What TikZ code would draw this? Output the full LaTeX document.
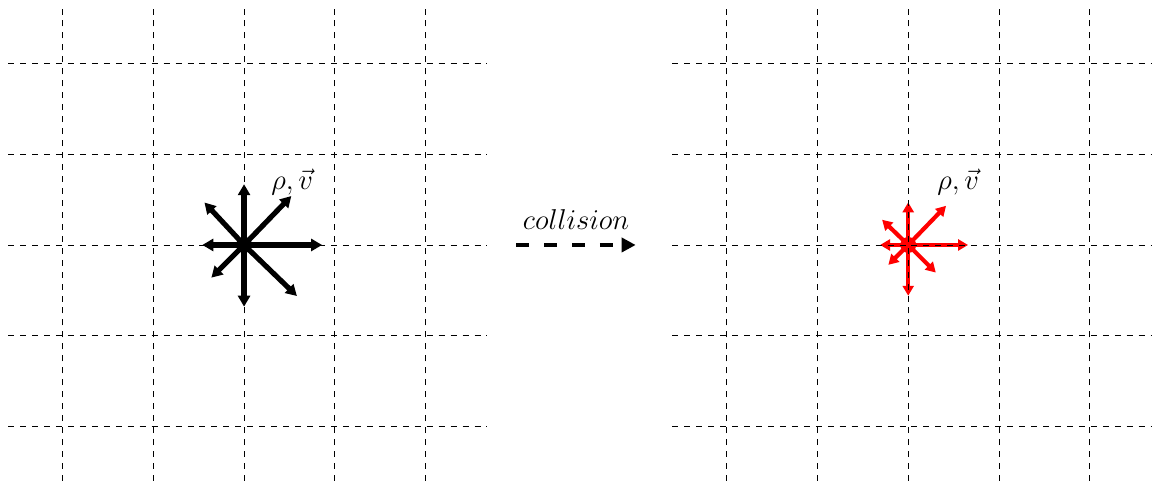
\documentclass[tikz,border=0pt,12pt]{standalone}
\usetikzlibrary{arrows.meta,calc}

\begin{document}
\begin{tikzpicture}[
  x=1.6cm, y=1.6cm,
  gridline/.style={dashed, line width=0.4pt},
  spoke/.style={-{Triangle[length=5.5pt, width=6pt]}, line width=2.6pt},
  redspoke/.style={-{Triangle[length=5pt, width=5.5pt]}, line width=2.1pt, red},
  dot/.style={circle, fill, inner sep=0pt, minimum size=8pt},
  label/.style={font=\large},
  collide/.style={-{Triangle[length=7pt, width=7pt]}, line width=2.2pt, dash pattern=on 6.5pt off 7.5pt},
]
\useasboundingbox (-2.69,-2.656) rectangle (10.04,2.70);

% === Before: black distribution ===
\node[dot] (lc) at (0,0) {};
\foreach \a/\l in {90/0.67, 46/0.75, 133/0.64, 180/0.46, 0/0.86, 225/0.51, 270/0.68, 316/0.81}
  \draw[spoke] (lc.center) -- ++(\a:\l);
\node[label] (lrho) at (0.53,0.69) {$\rho,\vec{v}$};

% === After: red distribution ===
\node[dot, red] (rc) at (7.32,0) {};
\foreach \a/\l in {90/0.47, 46/0.60, 136/0.40, 180/0.31, 0/0.66, 225/0.31, 270/0.56, 315/0.43}
  \draw[redspoke] (rc.center) -- ++(\a:\l);
\node[label] (rrho) at (7.87,0.69) {$\rho,\vec{v}$};

% === Lattices ===
\foreach \g in {lc, rc} {
  \foreach \i in {-2,...,2} {
    \draw[gridline] ($(\g)+(\i,-2.6)$) -- ($(\g)+(\i,2.64)$);
    \draw[gridline] ($(\g)+(-2.6,\i)$) -- ($(\g)+(2.68,\i)$);
  }
}

% === Collision step ===
\coordinate (cfrom) at (3.0,0);
\coordinate (cto) at (4.316,0);
\draw[collide] (cfrom) -- (cto);
\node[label] (coll) at (3.66,0.28) {$collision$};

\end{tikzpicture}
\end{document}
